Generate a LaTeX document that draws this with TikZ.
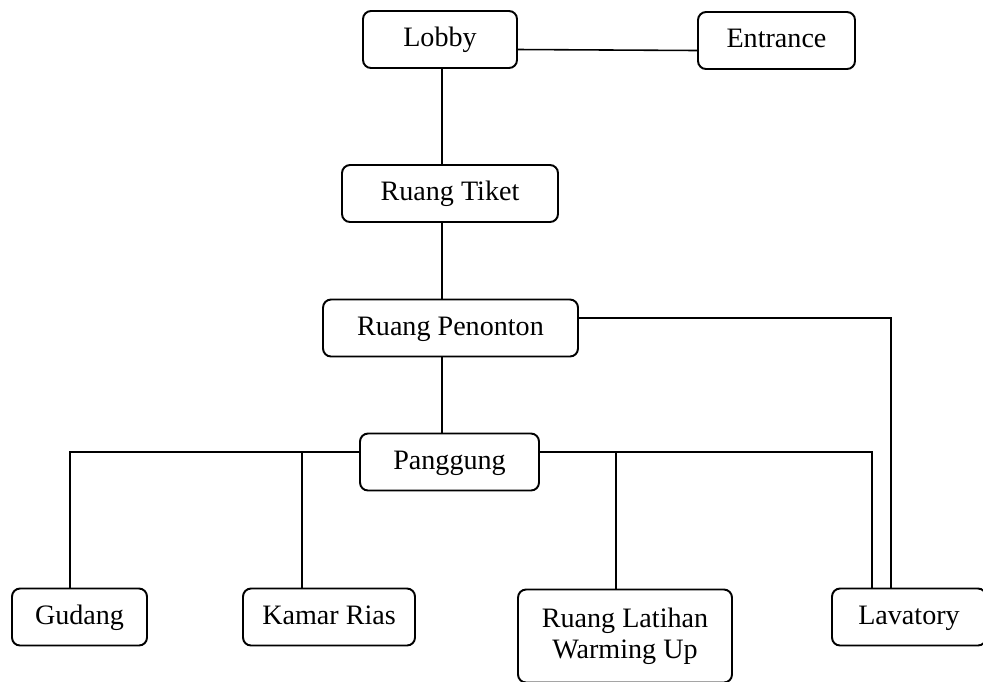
\documentclass[tikz,border=0pt]{standalone}
\usepackage{fontspec}
\setmainfont{Liberation Serif}

\tikzset{room/.style={draw, rounded corners=0.16cm, line width=1.1pt, fill=white,
    inner sep=0pt, minimum height=1.14cm, text height=0.8em, text depth=0pt,
    font=\fontsize{16}{17.5}\selectfont}}

\begin{document}
\begin{tikzpicture} [x=0.02cm, y=-0.02cm, line width=0.9pt, align=center]
\useasboundingbox (0,0) rectangle (983,681);

\path (440,39.5) node[room, minimum width=3.08cm] (lobby) {Lobby}
      (776.5,40.5) node[room, minimum width=3.14cm] (entrance) {Entrance}
      (450,193.5) node[room, minimum width=4.32cm] (tiket) {Ruang Tiket}
      (450.5,328) node[room, minimum width=5.10cm] (penonton) {Ruang Penonton}
      (449.5,462) node[room, minimum width=3.58cm] (panggung) {Panggung}
      (79.5,617) node[room, minimum width=2.70cm] (gudang) {Gudang}
      (329,617) node[room, minimum width=3.44cm] (rias) {Kamar Rias}
      (625,636) node[room, minimum width=4.28cm, minimum height=1.86cm,
                     text height={}, text depth={}] (latihan) {Ruang Latihan\\Warming Up}
      (909,617) node[room, minimum width=3.08cm] (lavatory) {Lavatory};

\path (442,0) coordinate (spine)
      (70,452) coordinate (gudangT)
      (302,452) coordinate (riasT)
      (616,452) coordinate (latihanT)
      (872,452) coordinate (lavT)
      (891,318) coordinate (viewT);

\draw ([yshift=-0.2cm]lobby.east) to ([yshift=-0.2cm]entrance.west);
\draw (lobby.south -| spine) to (tiket.north -| spine);
\draw (tiket.south -| spine) to (penonton.north -| spine);
\draw (penonton.south -| spine) to (panggung.north -| spine);
\draw (penonton.east |- viewT) to (viewT) to (lavatory.north -| viewT);
\draw (gudang.north -| gudangT) to (gudangT) to (panggung.west |- gudangT);
\draw (panggung.east |- lavT) to (lavT) to (lavatory.north -| lavT);
\draw (riasT) to (rias.north -| riasT);
\draw (latihanT) to (latihan.north -| latihanT);

\end{tikzpicture}
\end{document}
